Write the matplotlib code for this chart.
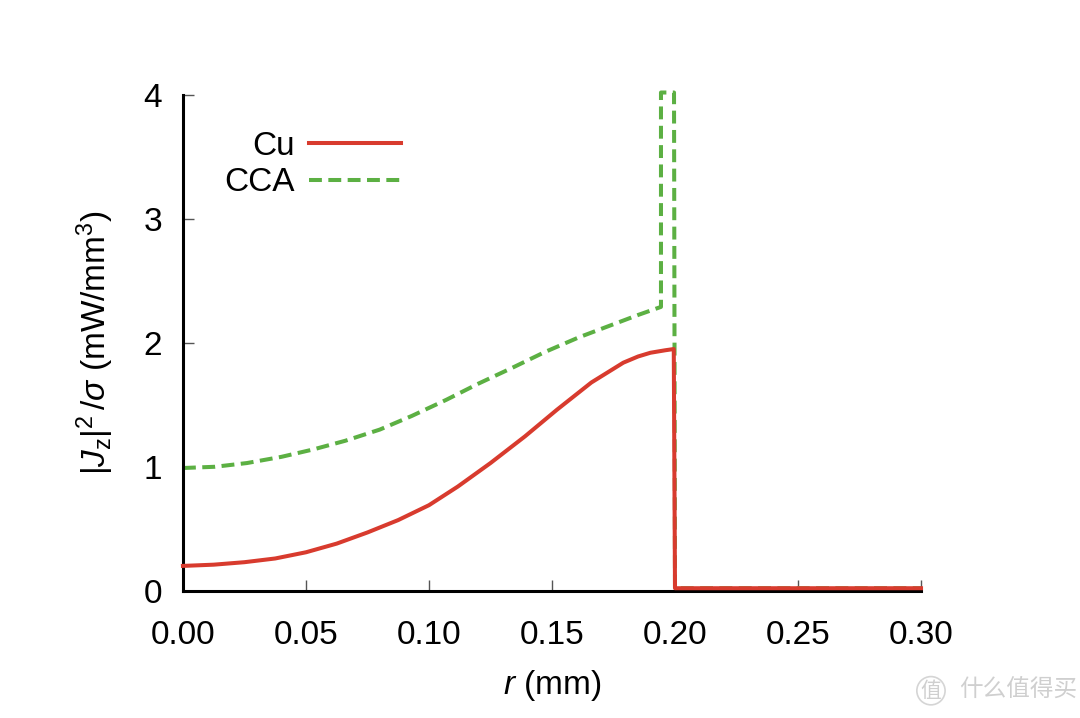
import matplotlib
matplotlib.use('Agg')
import matplotlib.pyplot as plt

plt.rcParams['font.family'] = ['Liberation Sans', 'DejaVu Sans']
plt.rcParams['mathtext.fontset'] = 'custom'
plt.rcParams['mathtext.rm'] = 'Liberation Sans'
plt.rcParams['mathtext.it'] = 'Liberation Sans:italic'

# values
r_cu = [0, 0.0125, 0.025, 0.0375, 0.05, 0.0625, 0.075, 0.0875, 0.10, 0.1117,
        0.125, 0.139, 0.152, 0.166, 0.179, 0.185, 0.19, 0.196, 0.1995, 0.2, 0.3]
j_cu = [0.20, 0.21, 0.23, 0.26, 0.31, 0.38, 0.47, 0.57, 0.69, 0.84,
        1.03, 1.245, 1.46, 1.68, 1.84, 1.89, 1.92, 1.94, 1.95, 0.02, 0.02]

r_cca = [0, 0.013, 0.026, 0.04, 0.053, 0.066, 0.080, 0.093, 0.107, 0.120,
         0.134, 0.147, 0.161, 0.175, 0.185, 0.1943, 0.1943, 0.1996, 0.2, 0.3]
j_cca = [0.99, 1.00, 1.03, 1.08, 1.14, 1.21, 1.30, 1.41, 1.54, 1.67,
         1.80, 1.925, 2.045, 2.15, 2.225, 2.29, 4.02, 4.02, 0.02, 0.02]

x_ticks = [0.00, 0.05, 0.10, 0.15, 0.20, 0.25, 0.30]
y_ticks = [0, 1, 2, 3, 4]

fig = plt.figure(figsize=(10.8, 7.18), dpi=100)
ax = fig.add_axes([0.1694, 0.1773, 0.6834, 0.6904])

ax.plot(r_cca, j_cca, color='#5cb043', lw=2.9, dashes=(3.2, 1.6),
        label='CCA', clip_on=False, zorder=2, solid_joinstyle='round')
ax.plot(r_cu, j_cu, color='#d83b2e', lw=2.9, label='Cu',
        clip_on=False, zorder=3, solid_joinstyle='round')

ax.set_xlim(0, 0.3)
ax.set_ylim(0, 4)
ax.set_xticks(x_ticks)
ax.set_xticklabels([f'{t:.2f}' for t in x_ticks])
ax.set_yticks(y_ticks)

for s in ['top', 'right']:
    ax.spines[s].set_visible(False)
for s in ['left', 'bottom']:
    ax.spines[s].set_linewidth(2.2)
    ax.spines[s].set_color('black')

ax.tick_params(axis='x', direction='in', length=8, width=1, color='#555555',
               labelsize=24, pad=21)
ax.tick_params(axis='y', direction='in', length=8, width=1, color='#555555',
               labelsize=24, pad=15)

ax.set_xlabel('$r$ (mm)', fontsize=24, labelpad=12)
ax.set_ylabel(r'$|J_\mathrm{z}|^2\,/\sigma$ (mW/mm$^3$)', fontsize=24, labelpad=20)

handles, labels = ax.get_legend_handles_labels()
ax.legend(handles[::-1], labels[::-1], loc='upper left',
          bbox_to_anchor=(0.056, 0.928), frameon=False, fontsize=24,
          markerfirst=False, handlelength=2.76, handletextpad=0.42,
          labelspacing=0.17, borderpad=0, borderaxespad=0)

# watermark
fig.text(0.862, 0.038, '值', fontsize=15, color='#cfcfcf',
         family=['Noto Sans CJK SC'], ha='center', va='center',
         bbox=dict(boxstyle='circle,pad=0.15', fc='none', ec='#d5d5d5', lw=1.2))
fig.text(0.888, 0.038, '什么值得买', fontsize=17, color='#cfcfcf',
         family=['Noto Sans CJK SC'], ha='left', va='center')

fig.savefig('out.png', dpi=100)
